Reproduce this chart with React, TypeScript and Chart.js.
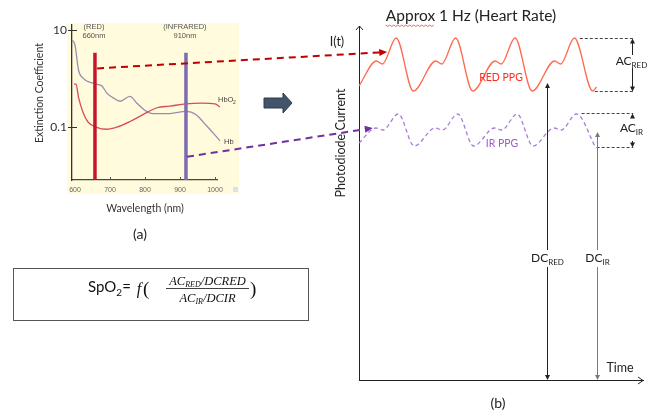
import { useEffect, useRef } from 'react';
import { Chart, registerables } from 'chart.js';

Chart.register(...registerables);

const W = 661;
const H = 412;

// ---------------- Panel (a): extinction spectra ----------------
const wavelengthTicks = [600, 700, 800, 900, 1000];
const coefTicks = [0.1, 10];
const hbO2Wl = [597, 603, 610, 623, 637, 660, 691, 720, 757, 794, 834, 871, 917, 963, 1000, 1014];
const hbO2Coef = [0.77, 0.77, 0.41, 0.2, 0.127, 0.1, 0.09, 0.1, 0.13, 0.18, 0.25, 0.27, 0.3, 0.31, 0.3, 0.26];
const hbWl = [592, 600, 610, 623, 660, 677, 691, 709, 729, 757, 777, 800, 823, 871, 917, 946, 974, 1000, 1014];
const hbCoef = [6.2, 4.9, 1.5, 1.02, 0.77, 0.7, 0.5, 0.4, 0.34, 0.43, 0.31, 0.22, 0.19, 0.19, 0.21, 0.18, 0.11, 0.068, 0.052];
const ledWl = [657, 917];
const ledTop = [3.4, 3.4];
const ledNames = ['(RED)', '(INFRARED)'];
const ledNm = ['660nm', '910nm'];
const ledColors = ['#C8142A', '#7C6CB2'];
const coefMin = 0.0081;
const coefMax = 12.7;

// ---------------- Panel (b): PPG signals ----------------
const redTime = [0, 0.29, 0.39, 0.62, 0.905, 1.28, 1.38, 1.61, 1.895, 2.27, 2.37, 2.6, 2.885, 3.26, 3.36, 3.59, 3.895, 3.96];
const redPPG = [29.4, 31.9, 31.6, 34.2, 28.9, 31.9, 31.6, 34.2, 28.9, 31.9, 31.6, 34.2, 28.9, 31.9, 31.6, 34.2, 28.9, 29.3];
const irTime = [0, 0.28, 0.4, 0.655, 0.92, 1.27, 1.39, 1.645, 1.91, 2.26, 2.38, 2.635, 2.9, 3.25, 3.37, 3.625, 3.94];
const irPPG = [23.7, 25.2, 25.0, 26.6, 23.4, 25.2, 25.0, 26.6, 23.4, 25.2, 25.0, 26.6, 23.4, 25.2, 25.0, 26.6, 23.3];
const timeMax = 4.733;
const currentMax = 35.4;
// AC / DC annotation values
const acRed = { top: 34.2, bottom: 28.9, topStart: 3.68, bottomStart: 3.93, end: 4.57, arrowAt: 4.55 };
const acIr = { top: 26.7, bottom: 23.3, topStart: 3.71, bottomStart: 3.96, end: 4.57, arrowAt: 4.55 };
const dcRed = { t: 3.13, top: 29.7 };
const dcIr = { t: 3.97, top: 24.8 };
// cross-panel arrows: start in panel (a) [nm, coef], end in panel (b) [s, current]
const redArrow = { wl: 663, coef: 1.62, t: 0.47, cur: 32.8 };
const irArrow = { wl: 920, coef: 0.0244, t: 0.23, cur: 25.2 };

const SANS = 'Lato, "Open Sans", sans-serif';
const ARIAL = '"Liberation Sans", Arial, sans-serif';
const SERIF = '"Liberation Serif", "DejaVu Serif", serif';

function txt(ctx: CanvasRenderingContext2D, s: string, x: number, y: number, font: string, color: string, align: CanvasTextAlign = 'center', baseline: CanvasTextBaseline = 'middle') {
  ctx.font = font;
  ctx.fillStyle = color;
  ctx.textAlign = align;
  ctx.textBaseline = baseline;
  ctx.fillText(s, x, y);
}

// main text + subscript, centred on x, baseline y
function subTxt(ctx: CanvasRenderingContext2D, main: string, sub: string, x: number, y: number, mainFont: string, subFont: string, color: string, subDrop: number, bg?: string) {
  ctx.font = mainFont;
  const w1 = ctx.measureText(main).width;
  ctx.font = subFont;
  const w2 = ctx.measureText(sub).width;
  const x0 = x - (w1 + w2) / 2;
  if (bg) {
    ctx.fillStyle = bg;
    ctx.fillRect(x0 - 1, y - 12, w1 + w2 + 2, 17);
  }
  txt(ctx, main, x0, y, mainFont, color, 'left', 'alphabetic');
  txt(ctx, sub, x0 + w1, y + subDrop, subFont, color, 'left', 'alphabetic');
}

function head(ctx: CanvasRenderingContext2D, x: number, y: number, ang: number, len: number, hw: number, color: string) {
  ctx.save();
  ctx.translate(x, y);
  ctx.rotate(ang);
  ctx.beginPath();
  ctx.moveTo(0, 0);
  ctx.lineTo(-len, -hw);
  ctx.lineTo(-len, hw);
  ctx.closePath();
  ctx.fillStyle = color;
  ctx.fill();
  ctx.restore();
}

function line(ctx: CanvasRenderingContext2D, x1: number, y1: number, x2: number, y2: number, color: string, w: number, dash: number[] = []) {
  ctx.save();
  ctx.beginPath();
  ctx.setLineDash(dash);
  ctx.strokeStyle = color;
  ctx.lineWidth = w;
  ctx.moveTo(x1, y1);
  ctx.lineTo(x2, y2);
  ctx.stroke();
  ctx.restore();
}

const panelAPlugin = {
  id: 'panelA',
  beforeDraw(chart: any) {
    const ctx = chart.ctx as CanvasRenderingContext2D;
    ctx.save();
    // pale yellow figure background
    ctx.fillStyle = '#FFFBDC';
    ctx.fillRect(67, 23, 172, 171);
    ctx.fillStyle = '#D7E3F4';
    ctx.fillRect(233, 187, 5, 5);
    ctx.restore();
  },
  afterDraw(chart: any) {
    const ctx = chart.ctx as CanvasRenderingContext2D;
    const xs = chart.scales.x;
    const ys = chart.scales.y;
    const left = chart.chartArea.left;
    const bottom = chart.chartArea.bottom;
    ctx.save();
    // tick marks
    coefTicks.forEach((v) => {
      const y = Math.round(ys.getPixelForValue(v)) + 0.5;
      line(ctx, left - 4, y, left + 5, y, '#333', 1);
    });
    wavelengthTicks.slice(1).forEach((v) => {
      const x = Math.round(xs.getPixelForValue(v)) + 0.5;
      line(ctx, x, bottom, x, bottom - 3, '#555', 1);
    });
    // LED labels
    ledWl.forEach((w, i) => {
      const x = xs.getPixelForValue(w) - 1;
      txt(ctx, ledNames[i], x, 27, `7.5px ${ARIAL}`, '#555');
      txt(ctx, ledNm[i], x, 36, `7.5px ${ARIAL}`, '#555');
    });
    // curve labels
    txt(ctx, 'HbO', 218, 100, `7.5px ${ARIAL}`, '#444', 'left');
    txt(ctx, '2', 233, 103, `5px ${ARIAL}`, '#444', 'left');
    txt(ctx, 'Hb', 224, 142, `7.5px ${ARIAL}`, '#444', 'left');
    // axis titles
    ctx.save();
    ctx.translate(40, 93);
    ctx.rotate(-Math.PI / 2);
    txt(ctx, 'Extinction Coefficient', 0, 0, `10.5px ${SANS}`, '#333');
    ctx.restore();
    txt(ctx, 'Wavelength (nm)', 145, 209, `10.5px ${SANS}`, '#333');
    txt(ctx, '(a)', 140, 234, `14px ${SANS}`, '#222');

    // block arrow
    ctx.beginPath();
    ctx.moveTo(264, 98);
    ctx.lineTo(283, 98);
    ctx.lineTo(283, 93);
    ctx.lineTo(292, 103);
    ctx.lineTo(283, 113);
    ctx.lineTo(283, 108);
    ctx.lineTo(264, 108);
    ctx.closePath();
    ctx.fillStyle = '#44546A';
    ctx.fill();
    ctx.strokeStyle = '#2E3A4A';
    ctx.lineWidth = 1;
    ctx.stroke();

    // formula box
    ctx.strokeStyle = '#555';
    ctx.lineWidth = 1;
    ctx.strokeRect(13.5, 268.5, 295, 52);
    let x = 88;
    const base = 292;
    const big = `15px ${SANS}`;
    txt(ctx, 'SpO', x, base, big, '#111', 'left', 'alphabetic');
    ctx.font = big;
    x += ctx.measureText('SpO').width;
    txt(ctx, '2', x, base + 3.5, `10px ${SANS}`, '#111', 'left', 'alphabetic');
    ctx.font = `10px ${SANS}`;
    x += ctx.measureText('2').width;
    txt(ctx, '= ', x, base, big, '#111', 'left', 'alphabetic');
    ctx.font = big;
    x += ctx.measureText('= ').width + 2;
    txt(ctx, 'f', x, base + 2, `italic 16px ${SERIF}`, '#111', 'left', 'alphabetic');
    ctx.font = `italic 16px ${SERIF}`;
    x += ctx.measureText('f').width + 2;
    txt(ctx, '(', x, base + 3, `19px ${SERIF}`, '#111', 'left', 'alphabetic');
    // fraction
    const fracL = 166;
    const fracR = 249;
    const cx = (fracL + fracR) / 2;
    const mf = `italic 12.5px ${SERIF}`;
    const sf = `italic 8px ${SERIF}`;
    const drawSeq = (parts: [string, string, number][], y: number) => {
      let tw = 0;
      parts.forEach(([s, f]) => { ctx.font = f; tw += ctx.measureText(s).width; });
      let px = cx - tw / 2;
      parts.forEach(([s, f, dy]) => {
        txt(ctx, s, px, y + dy, f, '#111', 'left', 'alphabetic');
        ctx.font = f;
        px += ctx.measureText(s).width;
      });
    };
    drawSeq([['AC', mf, 0], ['RED', sf, 2], ['/DCRED', mf, 0]], 284.5);
    drawSeq([['AC', mf, 0], ['IR', sf, 2], ['/DCIR', mf, 0]], 302);
    line(ctx, fracL, 288.5, fracR, 288.5, '#111', 0.8);
    txt(ctx, ')', fracR + 1, base + 3, `19px ${SERIF}`, '#111', 'left', 'alphabetic');
    ctx.restore();
  },
};

function makePanelBPlugin(chartA: Chart) {
  return {
    id: 'panelB',
    afterDraw(chart: any) {
      const ctx = chart.ctx as CanvasRenderingContext2D;
      const xs = chart.scales.x;
      const ys = chart.scales.y;
      const { left, top, right, bottom } = chart.chartArea;
      const X = (t: number) => xs.getPixelForValue(t);
      const Y = (v: number) => ys.getPixelForValue(v);
      ctx.save();
      // axis arrows (open chevrons)
      ctx.strokeStyle = '#222';
      ctx.lineWidth = 1;
      ctx.beginPath();
      ctx.moveTo(left + 0.5 - 3.5, top + 4);
      ctx.lineTo(left + 0.5, top);
      ctx.lineTo(left + 0.5 + 3.5, top + 4);
      ctx.moveTo(right - 5, bottom + 0.5 - 3.5);
      ctx.lineTo(right, bottom + 0.5);
      ctx.lineTo(right - 5, bottom + 0.5 + 3.5);
      ctx.stroke();

      // title
      const titleFont = `15.5px ${SANS}`;
      const title = 'Approx 1 Hz (Heart Rate)';
      txt(ctx, title, 471, 21, titleFont, '#222', 'center', 'alphabetic');
      ctx.font = titleFont;
      const tw = ctx.measureText(title).width;
      const aw = ctx.measureText('Approx').width;
      const tx0 = 471 - tw / 2;
      ctx.beginPath();
      ctx.strokeStyle = '#E0443A';
      ctx.lineWidth = 0.8;
      for (let i = 0, px = tx0; px <= tx0 + aw; i++, px += 2) {
        const py = 25 + (i % 2 === 0 ? 0 : 1.5);
        if (i === 0) ctx.moveTo(px, py); else ctx.lineTo(px, py);
      }
      ctx.stroke();

      txt(ctx, 'I(t)', 337, 42, `12.5px ${SANS}`, '#222');
      ctx.save();
      ctx.translate(341, 143);
      ctx.rotate(-Math.PI / 2);
      txt(ctx, 'Photodiode Current', 0, 0, `12.5px ${SANS}`, '#222');
      ctx.restore();
      txt(ctx, 'Time', 620, 368, `12.5px ${SANS}`, '#222');
      txt(ctx, '(b)', 498, 403, `14px ${SANS}`, '#222');
      txt(ctx, 'RED PPG', 501, 78, `10.5px ${SANS}`, '#FF2A1F');
      txt(ctx, 'IR PPG', 502, 144, `10.5px ${SANS}`, '#9B5BD0');

      // AC annotations
      const acDraw = (a: typeof acRed, labelMain: string, labelSub: string, labelY: number, gapTop: number, gapBottom: number) => {
        const yt = Math.round(Y(a.top)) + 0.5;
        const yb = Math.round(Y(a.bottom)) + 0.5;
        line(ctx, X(a.topStart), yt, X(a.end), yt, '#444', 1, [3, 2]);
        line(ctx, X(a.bottomStart), yb, X(a.end), yb, '#444', 1, [3, 2]);
        const ax = Math.round(X(a.arrowAt)) + 0.5;
        line(ctx, ax, yt + 4, ax, gapTop, '#222', 1);
        head(ctx, ax, yt, -Math.PI / 2, 5, 2.5, '#222');
        line(ctx, ax, gapBottom, ax, yb - 4, '#222', 1);
        head(ctx, ax, yb, Math.PI / 2, 5, 2.5, '#222');
        subTxt(ctx, labelMain, labelSub, ax - 1, labelY, `12px ${SANS}`, `8px ${SANS}`, '#222', 3);
      };
      acDraw(acRed, 'AC', 'RED', 65, 55, 68);
      acDraw(acIr, 'AC', 'IR', 132, 117, 141);

      // DC annotations
      const dcDraw = (d: typeof dcRed, color: string, sub: string) => {
        const x = Math.round(X(d.t)) + 0.5;
        const yt = Y(d.top);
        line(ctx, x, yt + 4, x, bottom - 4, color, 1);
        head(ctx, x, yt, -Math.PI / 2, 5, 2.5, color);
        head(ctx, x, bottom, Math.PI / 2, 5, 2.5, color);
        subTxt(ctx, 'DC', sub, x, 262, `12px ${SANS}`, `8px ${SANS}`, '#222', 3, '#ffffff');
      };
      dcDraw(dcRed, '#222', 'RED');
      dcDraw(dcIr, '#7A7A7A', 'IR');

      // dashed arrows from panel (a) to panel (b)
      const ax = chartA.scales.x;
      const ay = chartA.scales.y;
      const crossArrow = (a: typeof redArrow, color: string) => {
        const x1 = ax.getPixelForValue(a.wl);
        const y1 = ay.getPixelForValue(a.coef);
        const x2 = X(a.t);
        const y2 = Y(a.cur);
        const ang = Math.atan2(y2 - y1, x2 - x1);
        line(ctx, x1, y1, x2 - 6 * Math.cos(ang), y2 - 6 * Math.sin(ang), color, 2, [7, 5]);
        head(ctx, x2, y2, ang, 8, 3.5, color);
      };
      crossArrow(redArrow, '#C00000');
      crossArrow(irArrow, '#7030A0');
      ctx.restore();
    },
  };
}

export default function App() {
  const aRef = useRef<HTMLCanvasElement>(null);
  const bRef = useRef<HTMLCanvasElement>(null);

  useEffect(() => {
    const chartA = new Chart(aRef.current as HTMLCanvasElement, {
      type: 'line',
      data: {
        datasets: [
          ...ledWl.map((w, i) => ({
            label: ledNames[i],
            data: [{ x: w, y: coefMin }, { x: w, y: ledTop[i] }],
            borderColor: ledColors[i],
            borderWidth: 3.5,
            pointRadius: 0,
          })),
          {
            label: 'HbO2',
            data: hbO2Wl.map((x, i) => ({ x, y: hbO2Coef[i] })),
            borderColor: '#D94B5C',
            borderWidth: 1.3,
            pointRadius: 0,
            cubicInterpolationMode: 'monotone',
            clip: false,
          },
          {
            label: 'Hb',
            data: hbWl.map((x, i) => ({ x, y: hbCoef[i] })),
            borderColor: '#948FB0',
            borderWidth: 1.3,
            pointRadius: 0,
            cubicInterpolationMode: 'monotone',
            clip: false,
          },
        ],
      } as any,
      options: {
        responsive: false,
        animation: false,
        events: [],
        layout: { padding: { left: 42, top: 25, right: W - 217, bottom: H - 180 - 15 } },
        plugins: { legend: { display: false }, tooltip: { enabled: false } },
        scales: {
          x: {
            type: 'linear',
            min: 591.4,
            max: 1005.7,
            afterBuildTicks: (s: any) => { s.ticks = wavelengthTicks.map((value) => ({ value })); },
            afterFit: (s: any) => { s.height = 15; },
            grid: { display: false, drawTicks: false },
            border: { color: '#444', width: 1.3 },
            ticks: {
              font: { family: ARIAL, size: 7 },
              color: '#666',
              padding: 6,
              maxRotation: 0,
              autoSkip: false,
              callback: (v: any) => String(v),
            },
          },
          y: {
            type: 'logarithmic',
            min: coefMin,
            max: coefMax,
            afterBuildTicks: (s: any) => { s.ticks = coefTicks.map((value) => ({ value })); },
            afterFit: (s: any) => { s.width = 30; },
            grid: { display: false, drawTicks: false },
            border: { color: '#333', width: 1.3 },
            ticks: {
              font: { family: SANS, size: 12 },
              color: '#333',
              padding: 5,
              autoSkip: false,
              callback: (v: any) => String(v),
            },
          },
        },
      } as any,
      plugins: [panelAPlugin],
    });

    const chartB = new Chart(bRef.current as HTMLCanvasElement, {
      type: 'line',
      data: {
        datasets: [
          {
            label: 'RED PPG',
            data: redTime.map((x, i) => ({ x, y: redPPG[i] })),
            borderColor: '#FF6B4E',
            borderWidth: 1.3,
            pointRadius: 0,
            cubicInterpolationMode: 'monotone',
          },
          {
            label: 'IR PPG',
            data: irTime.map((x, i) => ({ x, y: irPPG[i] })),
            borderColor: '#A77DD8',
            borderWidth: 1.3,
            borderDash: [4, 3],
            pointRadius: 0,
            cubicInterpolationMode: 'monotone',
          },
        ],
      } as any,
      options: {
        responsive: false,
        animation: false,
        events: [],
        layout: { padding: { left: 359, top: 26, right: W - 643, bottom: H - 380 } },
        plugins: { legend: { display: false }, tooltip: { enabled: false } },
        scales: {
          x: {
            type: 'linear',
            min: 0,
            max: timeMax,
            ticks: { display: false },
            grid: { display: false, drawTicks: false },
            border: { color: '#222', width: 1 },
            afterFit: (s: any) => { s.height = 0; },
          },
          y: {
            type: 'linear',
            min: 0,
            max: currentMax,
            ticks: { display: false },
            grid: { display: false, drawTicks: false },
            border: { color: '#222', width: 1 },
            afterFit: (s: any) => { s.width = 0; },
          },
        },
      } as any,
      plugins: [makePanelBPlugin(chartA)],
    });

    return () => {
      chartB.destroy();
      chartA.destroy();
    };
  }, []);

  return (
    <div style={{ position: 'fixed', left: 0, top: 0, width: W, height: H, background: '#ffffff', overflow: 'hidden' }}>
      <canvas ref={aRef} width={W} height={H} style={{ position: 'absolute', left: 0, top: 0 }} />
      <canvas ref={bRef} width={W} height={H} style={{ position: 'absolute', left: 0, top: 0 }} />
    </div>
  );
}
